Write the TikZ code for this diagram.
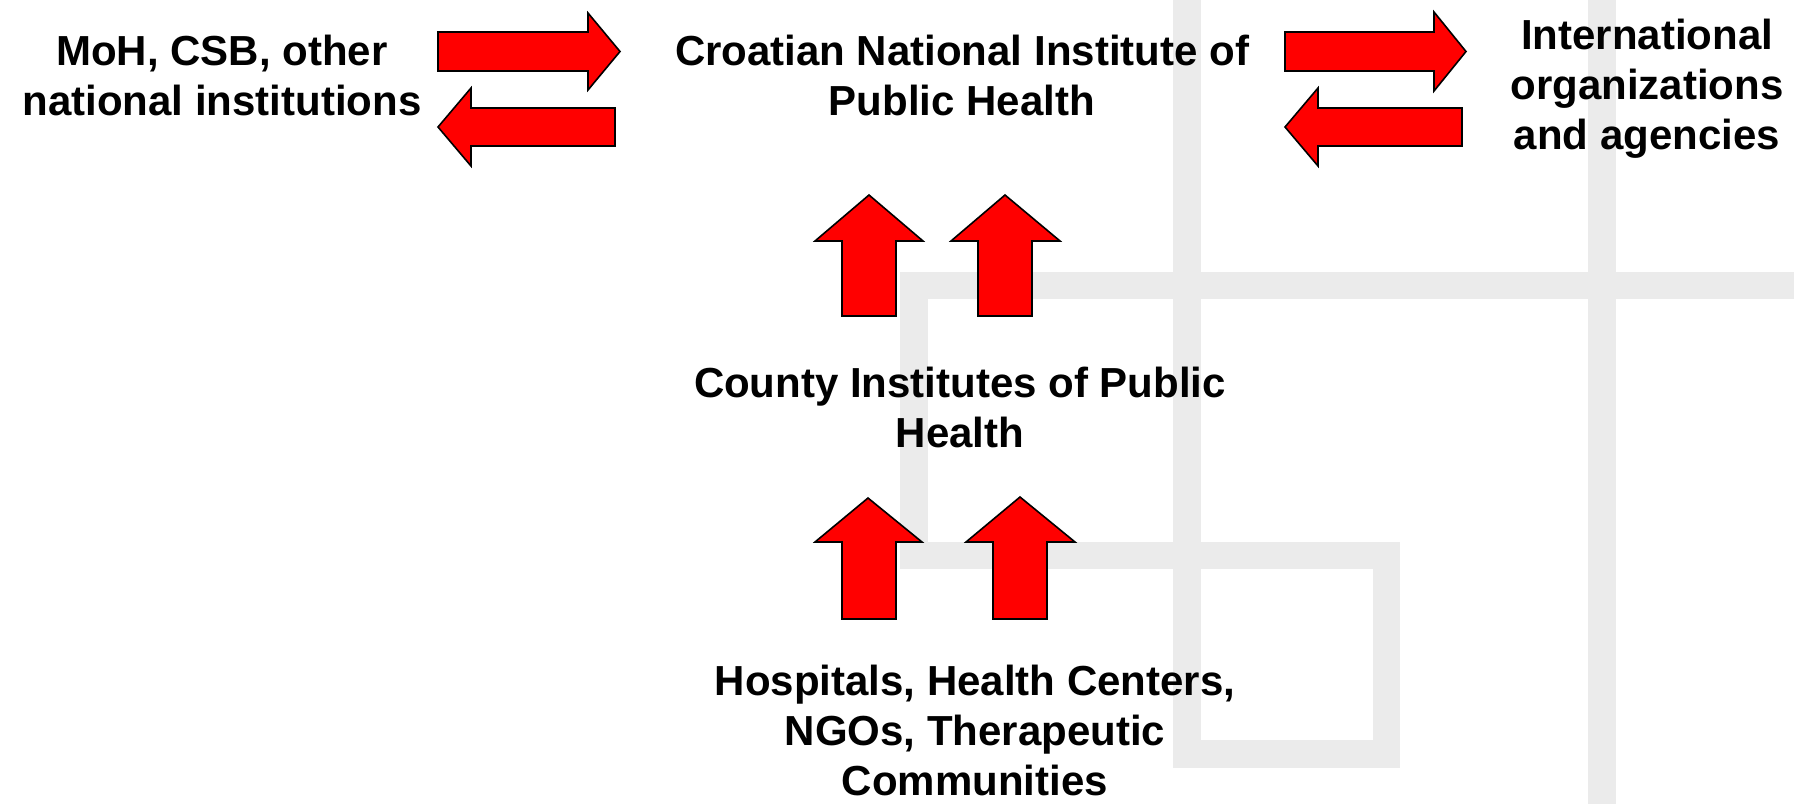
\documentclass[tikz,border=0pt]{standalone}
\usepackage{fontspec}
\setmainfont{Liberation Sans}
\definecolor{gridgray}{RGB}{235,235,235}
\definecolor{arrowred}{RGB}{255,0,0}
\begin{document}
\begin{tikzpicture}[x=0.5pt,y=-0.5pt,
  gridbar/.style={fill=gridgray, draw=none},
  blockarrow/.style={fill=arrowred, draw=black, line width=0.8pt, line join=miter},
  txt/.style={anchor=base, inner sep=0pt, align=center, font=\fontsize{21}{25}\selectfont\bfseries}]
\useasboundingbox (0,0) rectangle (1794,804);
\fill[white] (0,0) rectangle (1794,804);
% background grid bars
\path[gridbar] (1173,0) rectangle (1201,768);
\path[gridbar] (1588,0) rectangle (1616,804);
\path[gridbar] (900,272) rectangle (1794,299);
\path[gridbar] (900,272) rectangle (928,569);
\path[gridbar] (900,542) rectangle (1400,569);
\path[gridbar] (1373,542) rectangle (1400,768);
\path[gridbar] (1173,740) rectangle (1400,768);
% texts (anchored at the baseline of the last line)
\node[txt] (moh) at (222,115) {MoH, CSB, other\\national institutions};
\node[txt] (cniph) at (962,115) {Croatian National Institute of\\Public Health};
\node[txt] (intl) at (1647,149) {International\\organizations\\and agencies};
\node[txt] (county) at (960,447) {County Institutes of Public\\Health};
\node[txt] (hosp) at (975,795) {Hospitals, Health Centers,\\NGOs, Therapeutic\\Communities};
% left pair of horizontal arrows
\draw[blockarrow] (438,32) -- (588,32) -- (588,13) -- (620,51.5) -- (588,90) -- (588,71) -- (438,71) -- cycle;
\draw[blockarrow] (615,108) -- (471,108) -- (471,88) -- (438,127) -- (471,166) -- (471,146) -- (615,146) -- cycle;
% right pair of horizontal arrows
\draw[blockarrow] (1285,32) -- (1434,32) -- (1434,12) -- (1466,51.5) -- (1434,91) -- (1434,71) -- (1285,71) -- cycle;
\draw[blockarrow] (1462,108) -- (1318,108) -- (1318,88) -- (1285,127) -- (1318,166) -- (1318,146) -- (1462,146) -- cycle;
% upper pair of up arrows
\draw[blockarrow] (842,316) -- (842,241) -- (815,241) -- (869,195) -- (923,241) -- (896,241) -- (896,316) -- cycle;
\draw[blockarrow] (978,316) -- (978,241) -- (951,241) -- (1005,195) -- (1060,241) -- (1032,241) -- (1032,316) -- cycle;
% lower pair of up arrows
\draw[blockarrow] (842,619) -- (842,542) -- (815,542) -- (868,498) -- (922,542) -- (896,542) -- (896,619) -- cycle;
\draw[blockarrow] (993,619) -- (993,542) -- (966,542) -- (1020,497) -- (1075,542) -- (1047,542) -- (1047,619) -- cycle;
\end{tikzpicture}
\end{document}
